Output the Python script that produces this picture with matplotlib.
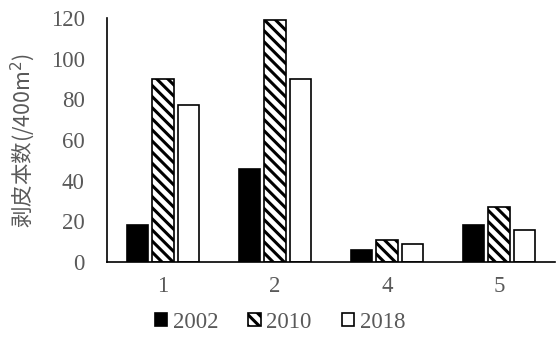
import numpy as np
import matplotlib
matplotlib.use("Agg")
from matplotlib import pyplot as plt

#-----------------------------------------------------------------------------------#
## data
plots = ["1", "2", "4", "5"]
years = ["2002", "2010", "2018"]
v2002 = [18, 46, 6, 18]
v2010 = [90, 119, 11, 27]
v2018 = [77, 90, 9, 16]

#-----------------------------------------------------------------------------------#
## style
plt.rcParams['font.family'] = ['Liberation Serif', 'Noto Sans CJK SC']
plt.rcParams['hatch.linewidth'] = 2.2
grey = "#595959"

fig = plt.figure(figsize=(5.6, 3.61), dpi=100)
ax = fig.add_axes([0.191, 0.274, 0.8, 0.676])

x = np.arange(len(plots))
w = 0.19
step = 0.225
styles = [dict(color="black", edgecolor="black"),
          dict(color="white", edgecolor="black", hatch="\\\\\\"),
          dict(color="white", edgecolor="black")]

for i, (vals, lab, st) in enumerate(zip([v2002, v2010, v2018], years, styles)):
    ax.bar(x + (i - 1) * step, vals, w, label=lab, linewidth=1.2, **st)

ax.set_xlim(-0.5, 3.5)
ax.set_ylim(0, 120)
ax.set_yticks(range(0, 121, 20))
ax.set_xticks(x)
ax.set_xticklabels(plots)
ax.tick_params(length=0, labelsize=16.5, colors=grey)
ax.tick_params(axis='y', pad=16)
ax.tick_params(axis='x', pad=10)
for s in ["top", "right"]:
    ax.spines[s].set_visible(False)
for s in ["left", "bottom"]:
    ax.spines[s].set_linewidth(1.2)

ax.set_ylabel("剥皮本数(/400m$^2$)", fontsize=15.5, color=grey,
              family=['Noto Sans CJK SC', 'Liberation Serif'])
ax.yaxis.set_label_coords(-0.156, 0.5)

leg = fig.legend(loc="center", bbox_to_anchor=(0.5, 0.108), ncol=3,
                 frameon=False, fontsize=16.5, handlelength=0.55, handleheight=0.55,
                 handletextpad=0.25, columnspacing=1.3)
for t in leg.get_texts():
    t.set_color(grey)

fig.savefig("out.png", dpi=100)
